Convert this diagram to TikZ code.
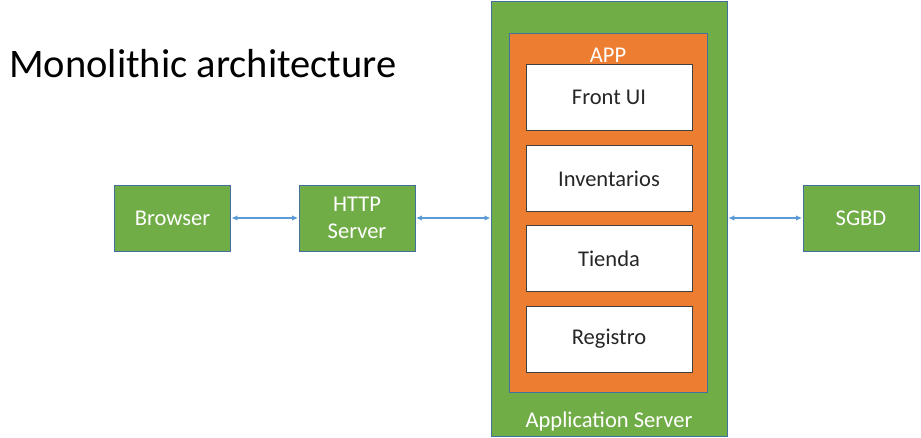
\documentclass[tikz,border=0pt]{standalone}
\usepackage{fontspec}
\setmainfont{Carlito}
\usetikzlibrary{arrows.meta}
\definecolor{grn}{HTML}{70AD47}
\definecolor{org}{HTML}{ED7D31}
\definecolor{bord}{HTML}{41719C}
\definecolor{arr}{HTML}{5B9BD5}
\begin{document}
\begin{tikzpicture}[x=1pt,y=-1pt,
  txt/.style={font=\fontsize{22.5}{27}\selectfont},
  gbox/.style={txt,draw=bord,fill=grn,line width=0.8pt,text=white,align=center,inner sep=0pt},
  wbox/.style={txt,draw=black!75,fill=white,line width=0.9pt,text=black!85,inner sep=0pt},
  link/.style={draw=arr,line width=1.3pt,{Latex[length=6pt,width=5.5pt]}-{Latex[length=6pt,width=5.5pt]},shorten <=0.5pt,shorten >=0.5pt}]
\useasboundingbox (0,0) rectangle (921,437);
\node[anchor=base west,font=\fontsize{40.5}{46}\selectfont,inner sep=0pt] (title) at (9,77) {Monolithic architecture};
\node[gbox,minimum width=116pt,minimum height=66pt] (browser) at (172.5,218) {Browser};
\node[gbox,minimum width=116pt,minimum height=66pt] (http) at (357,218) {HTTP\\Server};
\node[gbox,minimum width=236pt,minimum height=435pt,anchor=north west] (appsrv) at (491,1) {};
\node[anchor=base,text=white,txt,inner sep=0pt] (appsrvlbl) at (609,427) {Application Server};
\node[draw=bord,fill=org,line width=0.6pt,minimum width=198pt,minimum height=359pt,anchor=north west,inner sep=0pt] (app) at (509,33) {};
\node[anchor=base,text=white,txt,inner sep=0pt] (applbl) at (608,62) {APP};
\node[wbox,minimum width=166pt,minimum height=66pt] (front) at (609,97) {Front UI};
\node[wbox,minimum width=166pt,minimum height=66pt] (inv) at (609,178.5) {Inventarios};
\node[wbox,minimum width=166pt,minimum height=66pt] (tienda) at (609,258.5) {Tienda};
\node[wbox,minimum width=166pt,minimum height=66pt] (reg) at (609,339) {Registro};
\node[gbox,minimum width=116pt,minimum height=66pt] (sgbd) at (861,218) {SGBD};
\draw[link] (browser.east) -- (http.west);
\draw[link] (http.east) -- (appsrv.west |- http.east);
\draw[link] (appsrv.east |- sgbd.west) -- (sgbd.west);
\end{tikzpicture}
\end{document}
